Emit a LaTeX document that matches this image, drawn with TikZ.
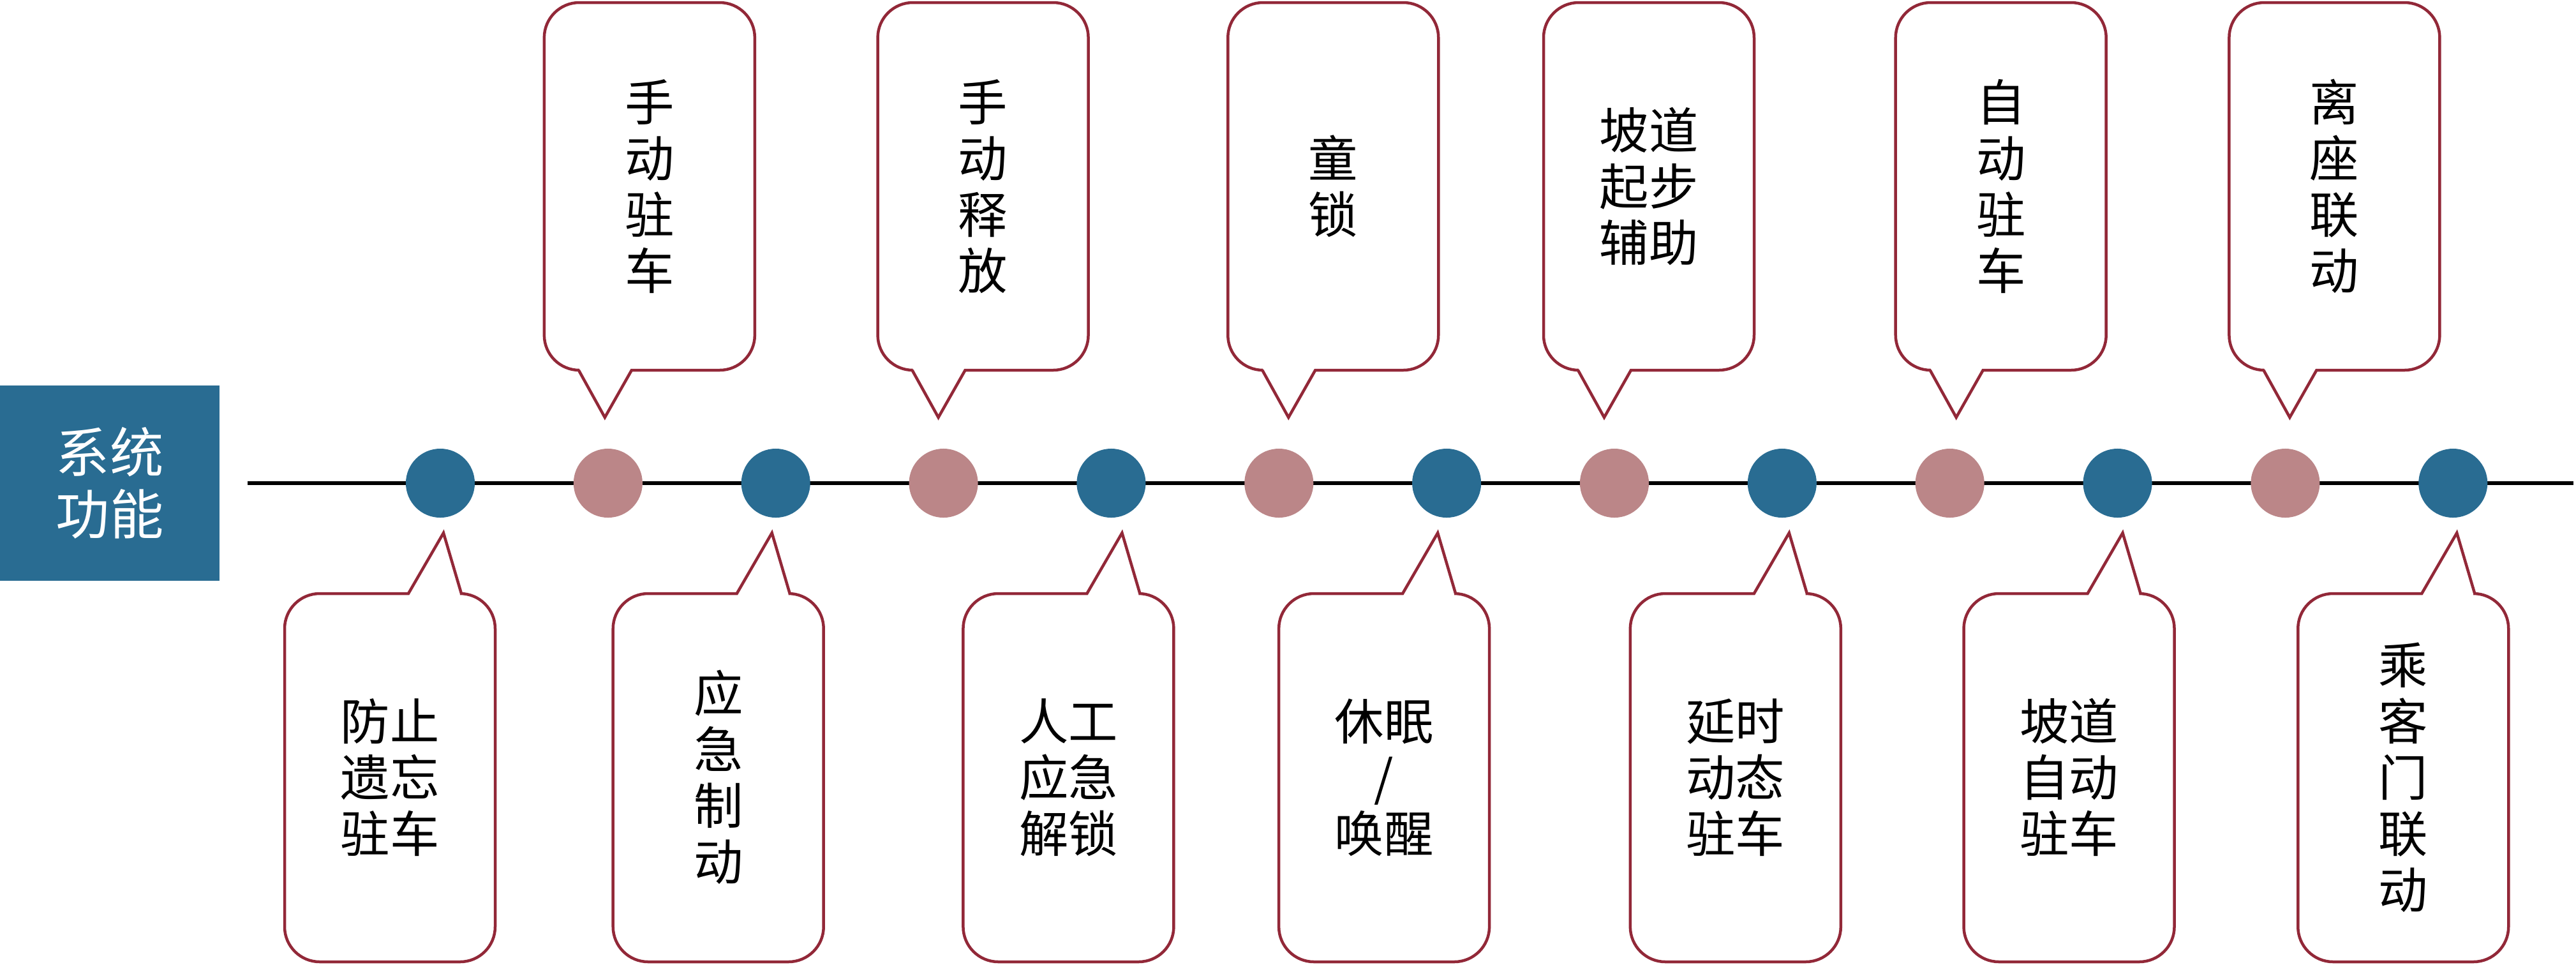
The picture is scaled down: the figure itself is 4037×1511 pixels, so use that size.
\documentclass[tikz,border=0pt]{standalone}
\usepackage{fontspec}
\newfontfamily\cjk{Noto Sans CJK SC}
\usetikzlibrary{positioning,calc}

\definecolor{epbblue}{RGB}{41,108,146}
\definecolor{epbpink}{RGB}{187,134,136}
\definecolor{epbred}{RGB}{146,40,56}

\tikzset{
  bluedot/.style={circle,fill=epbblue,minimum size=1.08cm,inner sep=0pt,outer sep=0pt},
  pinkdot/.style={circle,fill=epbpink,minimum size=1.08cm,inner sep=0pt,outer sep=0pt},
  sysbox/.style={fill=epbblue,text=white,minimum width=3.44cm,minimum height=3.06cm,
    align=center,font=\cjk\fontsize{24}{27.5}\selectfont},
  calltext/.style={align=center,font=\cjk\fontsize{22}{25}\selectfont},
  callline/.style={draw=epbred,line width=0.045cm,line join=miter},
  axis/.style={line width=0.065cm,black}
}

\newcommand{\upcall}[1]{\draw[callline] (#1) -- ++(-41,-74) [rounded corners=0.55cm]
  -- ++(-54,0) -- ++(0,-576) -- ++(330,0) -- ++(0,576) [sharp corners] -- ++(-193,0) -- cycle;}
\newcommand{\downcall}[1]{\draw[callline] (#1) -- ++(28,95) [rounded corners=0.55cm]
  -- ++(53,0) -- ++(0,577) -- ++(-330,0) -- ++(0,-577) [sharp corners] -- ++(194,0) -- cycle;}

\begin{document}
\begin{tikzpicture}[x=0.01cm,y=-0.01cm,node distance=1.547cm]
    \useasboundingbox (0,0) rectangle (4037,1511);
    \node[sysbox] (sys) at (172,757) {系统\\功能};
    \coordinate (lstart) at ([xshift=0.43cm]sys.east);
    \coordinate (lend) at (4033,757);
    \draw[axis] (lstart) -- (lend);

    \node[bluedot] (d1) at (690,757) {};
    \node[pinkdot] (d2) [right=of d1] {};
    \node[bluedot] (d3) [right=of d2] {};
    \node[pinkdot] (d4) [right=of d3] {};
    \node[bluedot] (d5) [right=of d4] {};
    \node[pinkdot] (d6) [right=of d5] {};
    \node[bluedot] (d7) [right=of d6] {};
    \node[pinkdot] (d8) [right=of d7] {};
    \node[bluedot] (d9) [right=of d8] {};
    \node[pinkdot] (d10) [right=of d9] {};
    \node[bluedot] (d11) [right=of d10] {};
    \node[pinkdot] (d12) [right=of d11] {};
    \node[bluedot] (d13) [right=of d12] {};

    \coordinate (t2) at ($(d2)+(-5,-103)$);
    \coordinate (t4) at ($(d4)+(-8,-103)$);
    \coordinate (t6) at ($(d6)+(15,-103)$);
    \coordinate (t8) at ($(d8)+(-16,-103)$);
    \coordinate (t10) at ($(d10)+(10,-103)$);
    \coordinate (t12) at ($(d12)+(7,-103)$);
    \coordinate (t1) at ($(d1)+(5,78)$);
    \coordinate (t3) at ($(d3)+(-6,78)$);
    \coordinate (t5) at ($(d5)+(17,78)$);
    \coordinate (t7) at ($(d7)+(-14,78)$);
    \coordinate (t9) at ($(d9)+(11,78)$);
    \coordinate (t11) at ($(d11)+(8,78)$);
    \coordinate (t13) at ($(d13)+(6,78)$);

    \upcall{t2} \upcall{t4} \upcall{t6} \upcall{t8} \upcall{t10} \upcall{t12}
    \downcall{t1} \downcall{t3} \downcall{t5} \downcall{t7} \downcall{t9} \downcall{t11} \downcall{t13}

    \node[calltext] (mpark) at ($(t2)+(70,-362)$) {手\\动\\驻\\车};
    \node[calltext] (mrelease) at ($(t4)+(70,-362)$) {手\\动\\释\\放};
    \node[calltext] (childlock) at ($(t6)+(70,-362)$) {童\\锁};
    \node[calltext] (hillstart) at ($(t8)+(70,-362)$) {坡道\\起步\\辅助};
    \node[calltext] (autohold) at ($(t10)+(70,-362)$) {自\\动\\驻\\车};
    \node[calltext] (seatleave) at ($(t12)+(70,-362)$) {离\\座\\联\\动};
    \node[calltext] (forget) at ($(t1)+(-84,383)$) {防止\\遗忘\\驻车};
    \node[calltext] (emgbrake) at ($(t3)+(-84,383)$) {应\\急\\制\\动};
    \node[calltext] (unlock) at ($(t5)+(-84,383)$) {人工\\应急\\解锁};
    \node[calltext] (sleep) at ($(t7)+(-84,383)$) {休眠\\/\\唤醒};
    \node[calltext] (dynpark) at ($(t9)+(-84,383)$) {延时\\动态\\驻车};
    \node[calltext] (hillpark) at ($(t11)+(-84,383)$) {坡道\\自动\\驻车};
    \node[calltext] (doorlink) at ($(t13)+(-84,383)$) {乘\\客\\门\\联\\动};
  \end{tikzpicture}
\end{document}
